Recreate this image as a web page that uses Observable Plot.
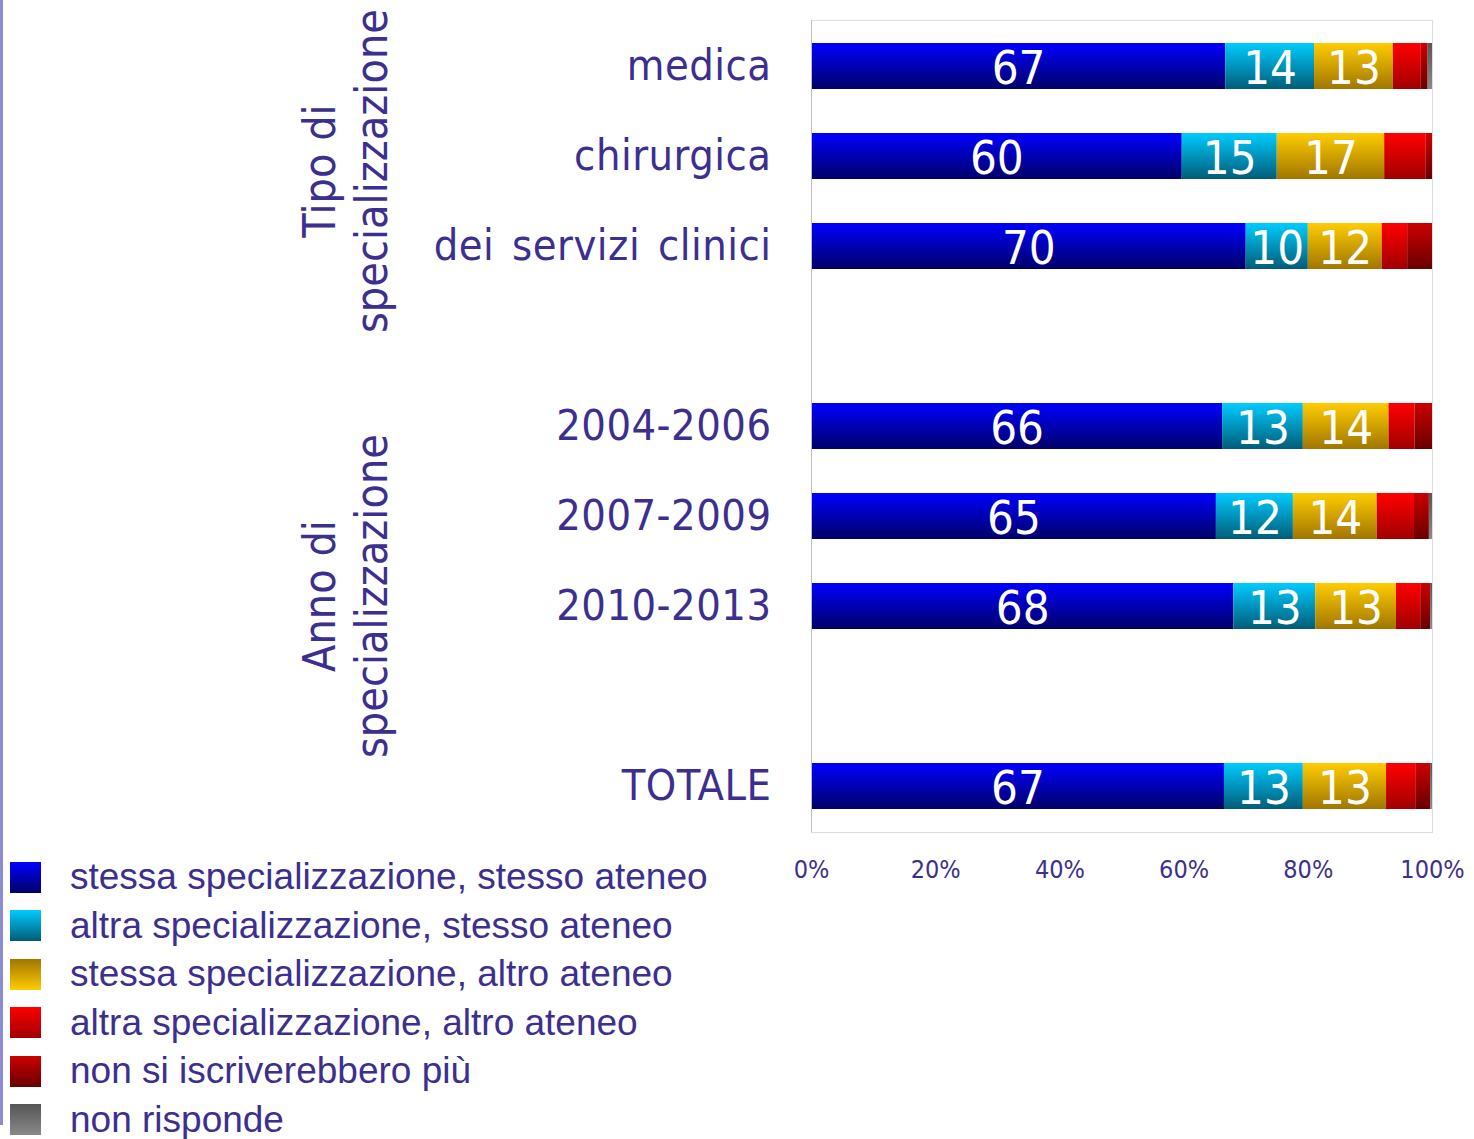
<!DOCTYPE html>
<html>
<head>
<meta charset="utf-8">
<script src="https://cdn.jsdelivr.net/npm/d3@7"></script>
<script src="https://cdn.jsdelivr.net/npm/@observablehq/plot@0.6"></script>
<style>
  html, body { margin: 0; padding: 0; background: #fff; }
  #page { position: relative; width: 1474px; height: 1139px; overflow: hidden; }
  #edge { position: absolute; left: 0; top: 0; width: 3px; height: 1125px; background: #8b8bd4; }
  #chart { position: absolute; left: 0; top: 0; }
  .group { position: absolute; width: 400px; line-height: 52px; font-size: 44.5px; text-align: center;
           font-family: "DejaVu Sans Condensed", "DejaVu Sans", sans-serif; color: #3c2f8f;
           transform: rotate(-90deg); transform-origin: 50% 50%; white-space: nowrap; }
  #legend { position: absolute; left: 10px; top: 853px; font-family: "Liberation Sans", Arial, sans-serif;
            font-size: 37px; color: #3c2f8f; }
  .item { display: flex; align-items: center; height: 48.5px; }
  .sw { width: 31px; height: 31px; margin-right: 29px; flex: none; }
</style>
</head>
<body>
<div id="page">
  <div id="chart"></div>
  <div id="edge"></div>
  <div class="group" style="left:146px; top:119px;">Tipo di<br>specializzazione</div>
  <div class="group" style="left:146px; top:544px;">Anno di<br>specializzazione</div>
  <div id="legend"></div>
</div>
<script>
// Categories (rows), with two empty spacer rows between groups
const categories = ["medica", "chirurgica", "dei servizi clinici", "2004-2006", "2007-2009", "2010-2013", "TOTALE"];
const rowOrder = ["medica", "chirurgica", "dei servizi clinici", "gap1", "2004-2006", "2007-2009", "2010-2013", "gap2", "TOTALE"];

// Series names
const seriesNames = [
  "stessa specializzazione, stesso ateneo",
  "altra specializzazione, stesso ateneo",
  "stessa specializzazione, altro ateneo",
  "altra specializzazione, altro ateneo",
  "non si iscriverebbero più",
  "non risponde"
];

// Series values (%), one per category
const stessaSpecStessoAteneo = [66.7, 59.7, 70.0, 66.2, 65.2, 68.0, 66.5];
const altraSpecStessoAteneo  = [14.3, 15.3, 10.0, 13.0, 12.4, 13.2, 12.7];
const stessaSpecAltroAteneo  = [12.7, 17.3, 11.9, 13.8, 13.5, 13.0, 13.4];
const altraSpecAltroAteneo   = [4.5, 6.7, 4.1, 4.2, 6.0, 3.9, 4.8];
const nonSiIscriverebbero    = [1.1, 1.0, 4.0, 2.8, 2.4, 1.6, 2.3];
const nonRisponde            = [0.7, 0.0, 0.0, 0.0, 0.5, 0.3, 0.3];

// x tick values
const xTicks = [0, 20, 40, 60, 80, 100];

const seriesValues = [stessaSpecStessoAteneo, altraSpecStessoAteneo, stessaSpecAltroAteneo,
                      altraSpecAltroAteneo, nonSiIscriverebbero, nonRisponde];

// gradient stops [top, bottom] for bars
const gradients = [
  ["#0000ff", "#000068"],
  ["#00ccff", "#005c78"],
  ["#ffcc00", "#a07600"],
  ["#ff0000", "#a00000"],
  ["#cc0000", "#680000"],
  ["#555555", "#8a8a8a"]
];
const legendGradients = [
  ["#0000ff", "#000068"],
  ["#00ccff", "#005c78"],
  ["#a07600", "#ffcc00"],
  ["#ff0000", "#a00000"],
  ["#cc0000", "#680000"],
  ["#555555", "#8a8a8a"]
];

const data = [];
categories.forEach((c, i) => {
  seriesValues.forEach((vals, s) => {
    data.push({cat: c, s, series: seriesNames[s], value: vals[i]});
  });
});

const textColor = "#3c2f8f";

const chart = Plot.plot({
  width: 1474,
  height: 900,
  marginTop: 20,
  marginBottom: 68,
  marginLeft: 811,
  marginRight: 42,
  style: {fontFamily: "'DejaVu Sans Condensed', 'DejaVu Sans', sans-serif", color: textColor, background: "#fff"},
  x: {domain: [0, 100]},
  y: {domain: rowOrder, paddingInner: 0.49, paddingOuter: 0.245},
  color: {type: "identity"},
  marks: [
    Plot.frame({stroke: "#dcdcdc"}),
    Plot.barX(data, Plot.stackX({
      x: "value", y: "cat", z: "s", order: null,
      fill: d => `url(#grad${d.s})`
    })),
    Plot.text(data, Plot.stackX({
      x: "value", y: "cat", z: "s", order: null,
      text: d => d.s < 3 ? String(Math.round(d.value)) : "",
      fill: "white", fontSize: 47, dy: 2
    })),
    Plot.ruleX([0], {stroke: "#bdbdbd"}),
    Plot.axisX({ticks: xTicks, tickFormat: d => d + "%", tickSize: 0, tickPadding: 28, fontSize: 25, label: null}),
    Plot.axisY({tickSize: 0, tickPadding: 40, fontSize: 43, label: null,
                tickFormat: d => d.startsWith("gap") ? "" : d})
  ]
});

const svg = d3.select(chart);
const defs = svg.insert("defs", ":first-child");
gradients.forEach((g, i) => {
  const lg = defs.append("linearGradient").attr("id", `grad${i}`)
    .attr("x1", 0).attr("y1", 0).attr("x2", 0).attr("y2", 1);
  lg.append("stop").attr("offset", "0%").attr("stop-color", g[0]);
  lg.append("stop").attr("offset", "100%").attr("stop-color", g[1]);
});
svg.selectAll('g[aria-label="y-axis tick label"]')
  .style("letter-spacing", "0.5px").style("word-spacing", "5px");

document.getElementById("chart").appendChild(chart);

const legend = d3.select("#legend");
seriesNames.forEach((name, i) => {
  const it = legend.append("div").attr("class", "item");
  it.append("div").attr("class", "sw")
    .style("background", `linear-gradient(to bottom, ${legendGradients[i][0]}, ${legendGradients[i][1]})`);
  it.append("span").text(name);
});
</script>
</body>
</html>
